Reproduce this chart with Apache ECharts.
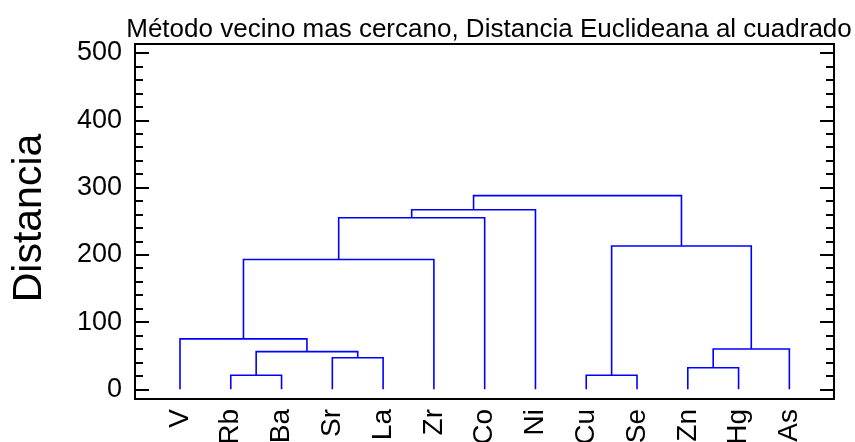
<!DOCTYPE html>
<html>
<head>
<meta charset="utf-8">
<script src="https://cdn.jsdelivr.net/npm/echarts@6/dist/echarts.min.js"></script>
<style>
  html, body { margin: 0; padding: 0; background: #fff; }
  #chart { width: 855px; height: 442px; }
</style>
</head>
<body>
<div id="chart"></div>
<script>
// Leaves of the dendrogram, in display order
const leaves = ['V', 'Rb', 'Ba', 'Sr', 'La', 'Zr', 'Co', 'Ni', 'Cu', 'Se', 'Zn', 'Hg', 'As'];

// Merge steps (single linkage). Indices < leaves.length are leaves,
// index leaves.length + k is the cluster created by merge step k.
const mergeA = [1, 8, 10, 3, 13, 15, 0, 19, 14, 20, 22, 23];
const mergeB = [2, 9, 11, 4, 16, 12, 17, 5, 18, 6, 7, 21];
const mergeHeight = [21, 21, 32, 47, 56, 60, 75, 193, 213, 255, 267, 288];

// Y axis ticks
const yMajorTicks = [0, 100, 200, 300, 400, 500];
const yMinorTicks = [0, 20, 40, 60, 80, 100, 120, 140, 160, 180, 200, 220, 240, 260, 280,
                     300, 320, 340, 360, 380, 400, 420, 440, 460, 480, 500];

const titleText = 'Método vecino mas cercano, Distancia Euclideana al cuadrado';
const yName = 'Distancia';

// Position and height of every node: leaves sit at their index and height 0,
// each cluster sits halfway between its two children.
const nodeX = leaves.map((_, i) => i);
const nodeY = leaves.map(() => 0);
const links = [];
for (let k = 0; k < mergeHeight.length; k++) {
  const a = mergeA[k], b = mergeB[k], h = mergeHeight[k];
  links.push([nodeX[a], nodeY[a], nodeX[b], nodeY[b], h]);
  nodeX.push((nodeX[a] + nodeX[b]) / 2);
  nodeY.push(h);
}

const FONT = "'Liberation Sans', Arial, Helvetica, sans-serif";
const Y_MIN = -14.4, Y_MAX = 513.4;

function yAxisDef(position, ticks, len, withLabels) {
  return {
    type: 'value',
    position: position,
    min: Y_MIN,
    max: Y_MAX,
    axisLine: { show: false, onZero: false },
    splitLine: { show: false },
    axisTick: {
      show: true,
      inside: true,
      length: len,
      customValues: ticks,
      lineStyle: { color: '#000', width: 2 }
    },
    axisLabel: withLabels ? {
      show: true,
      customValues: yMajorTicks,
      fontFamily: FONT,
      fontSize: 27,
      color: '#000',
      margin: 13
    } : { show: false }
  };
}

const chart = echarts.init(document.getElementById('chart'), null, { renderer: 'canvas' });

chart.setOption({
  animation: false,
  backgroundColor: '#fff',
  title: {
    text: titleText,
    left: 484,
    top: 12,
    textAlign: 'center',
    textStyle: { fontFamily: FONT, fontSize: 26, fontWeight: 'normal', color: '#000' }
  },
  graphic: [{
    type: 'text',
    x: 30,
    y: 218,
    rotation: Math.PI / 2,
    style: {
      text: yName,
      fontFamily: FONT,
      fontSize: 41,
      fill: '#000',
      align: 'center',
      verticalAlign: 'middle'
    }
  }],
  grid: {
    left: 135,
    right: 21,
    top: 44,
    bottom: 43,
    outerBoundsMode: 'none',
    containLabel: false,
    show: true,
    borderColor: '#000',
    borderWidth: 2,
    backgroundColor: 'transparent'
  },
  xAxis: {
    type: 'value',
    min: -0.886,
    max: 12.879,
    axisLine: { show: false, onZero: false },
    axisTick: { show: false },
    splitLine: { show: false },
    axisLabel: {
      customValues: leaves.map((_, i) => i),
      formatter: v => leaves[Math.round(v)],
      rotate: 90,
      fontFamily: FONT,
      fontSize: 28,
      color: '#000',
      margin: 10
    }
  },
  yAxis: [
    yAxisDef('left', yMajorTicks, 14, true),
    yAxisDef('left', yMinorTicks, 8, false),
    yAxisDef('right', yMajorTicks, 14, false),
    yAxisDef('right', yMinorTicks, 8, false)
  ],
  series: [{
    type: 'custom',
    yAxisIndex: 0,
    data: links,
    encode: { x: [0, 2], y: [1, 3, 4] },
    renderItem: function (params, api) {
      const x1 = api.value(0), y1 = api.value(1);
      const x2 = api.value(2), y2 = api.value(3);
      const h = api.value(4);
      const pts = [
        api.coord([x1, y1]),
        api.coord([x1, h]),
        api.coord([x2, h]),
        api.coord([x2, y2])
      ];
      return {
        type: 'polyline',
        shape: { points: pts },
        style: { stroke: '#0000ff', lineWidth: 1.6, fill: null }
      };
    }
  }]
});
</script>
</body>
</html>
